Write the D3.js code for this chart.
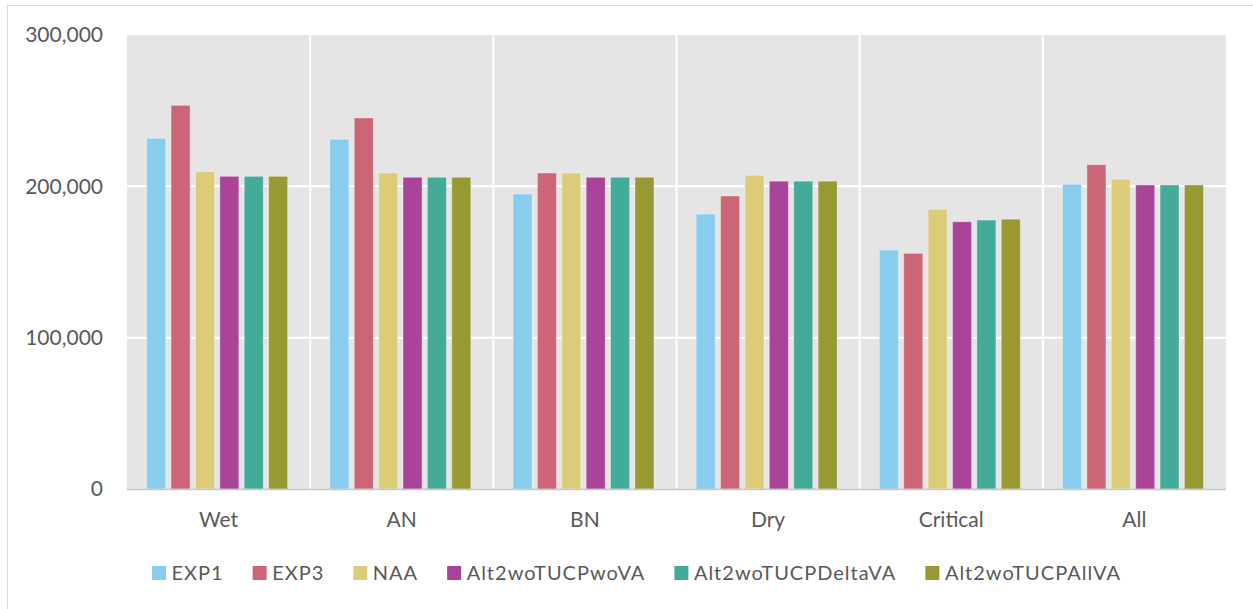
<!DOCTYPE html>
<html>
<head>
<meta charset="utf-8">
<script src="https://cdn.jsdelivr.net/npm/d3@7"></script>
<style>
  html, body { margin: 0; padding: 0; background: #ffffff; }
  svg { display: block; }
  text { font-family: Lato, "Open Sans", sans-serif; fill: #595959; }
</style>
</head>
<body>
<script>
const categories = ["Wet", "AN", "BN", "Dry", "Critical", "All"];
const seriesNames = ["EXP1", "EXP3", "NAA", "Alt2woTUCPwoVA", "Alt2woTUCPDeltaVA", "Alt2woTUCPAllVA"];
const seriesColors = ["#88CCEE", "#CC6677", "#DDCC77", "#AA4499", "#44AA99", "#999933"];
const exp1 = [231700, 231100, 194900, 181700, 157900, 201300];
const exp3 = [253500, 245200, 208800, 193600, 155700, 214300];
const naa = [209700, 208800, 208800, 207300, 184800, 204800];
const woVA = [206600, 206000, 206000, 203400, 176600, 200900];
const deltaVA = [206600, 206000, 206000, 203400, 177700, 200900];
const allVA = [206600, 206000, 206000, 203400, 178300, 200900];
const yTicks = [0, 100000, 200000, 300000];

const seriesValues = [exp1, exp3, naa, woVA, deltaVA, allVA];

const W = 1253, H = 609;
const plot = { left: 127, right: 1226, top: 35, bottom: 489 };

const svg = d3.select("body").append("svg").attr("width", W).attr("height", H);

// outer frame
svg.append("rect").attr("x", 7.5).attr("y", 5.5).attr("width", 1260).attr("height", 620)
  .attr("fill", "#fff").attr("stroke", "#d9d9d9").attr("stroke-width", 1);

const x = d3.scaleBand().domain(categories).range([plot.left, plot.right]).padding(0);
const cw = x.bandwidth();
const xs = d3.scaleBand().domain(seriesNames).range([cw * 0.1075, cw * 0.877]).paddingInner(0.22).paddingOuter(0);
const y = d3.scaleLinear().domain([0, 300000]).range([plot.bottom, plot.top]);

// background
svg.append("rect").attr("x", plot.left).attr("y", plot.top)
  .attr("width", plot.right - plot.left).attr("height", plot.bottom - plot.top)
  .attr("fill", "#e5e5e5");

// horizontal gridlines
svg.append("g").selectAll("line").data(yTicks.filter(d => d > 0 && d < 300000)).join("line")
  .attr("x1", plot.left).attr("x2", plot.right)
  .attr("y1", d => y(d)).attr("y2", d => y(d))
  .attr("stroke", "#ffffff").attr("stroke-width", 2);

// vertical gridlines
svg.append("g").selectAll("line").data(categories.slice(1)).join("line")
  .attr("x1", d => x(d)).attr("x2", d => x(d))
  .attr("y1", plot.top).attr("y2", plot.bottom)
  .attr("stroke", "#ffffff").attr("stroke-width", 2);

// bars
const groups = svg.append("g").selectAll("g").data(categories).join("g")
  .attr("transform", d => `translate(${x(d)},0)`);
groups.selectAll("rect").data((c, ci) => seriesNames.map((s, si) => ({ s, si, v: seriesValues[si][ci] })))
  .join("rect")
  .attr("x", d => xs(d.s)).attr("width", xs.bandwidth())
  .attr("y", d => y(d.v)).attr("height", d => y(0) - y(d.v))
  .attr("fill", d => seriesColors[d.si])
  .attr("stroke", "rgba(255,255,255,0.35)").attr("stroke-width", 1);

// x axis line
svg.append("line").attr("x1", plot.left).attr("x2", plot.right)
  .attr("y1", plot.bottom + 0.5).attr("y2", plot.bottom + 0.5)
  .attr("stroke", "#c8c8c8").attr("stroke-width", 1.5);

// y axis labels
const fmt = d3.format(",");
svg.append("g").selectAll("text").data(yTicks).join("text")
  .attr("x", 103).attr("y", d => y(d)).attr("dy", "0.35em")
  .attr("text-anchor", "end").attr("font-size", 21)
  .text(d => fmt(d));

// x axis labels
svg.append("g").selectAll("text").data(categories).join("text")
  .attr("x", d => x(d) + cw / 2).attr("y", 520).attr("dy", "0.35em")
  .attr("text-anchor", "middle").attr("font-size", 21)
  .text(d => d);

// legend
const legend = svg.append("g");
let lx = 152;
seriesNames.forEach((s, i) => {
  const g = legend.append("g");
  g.append("rect").attr("x", lx).attr("y", 566).attr("width", 14).attr("height", 14).attr("fill", seriesColors[i]);
  const t = g.append("text").attr("x", lx + 19.5).attr("y", 573).attr("dy", "0.35em")
    .attr("font-size", 20).attr("letter-spacing", 1).text(s);
  const w = t.node().getComputedTextLength();
  lx = lx + 19.5 + w + 29;
});
</script>
</body>
</html>
